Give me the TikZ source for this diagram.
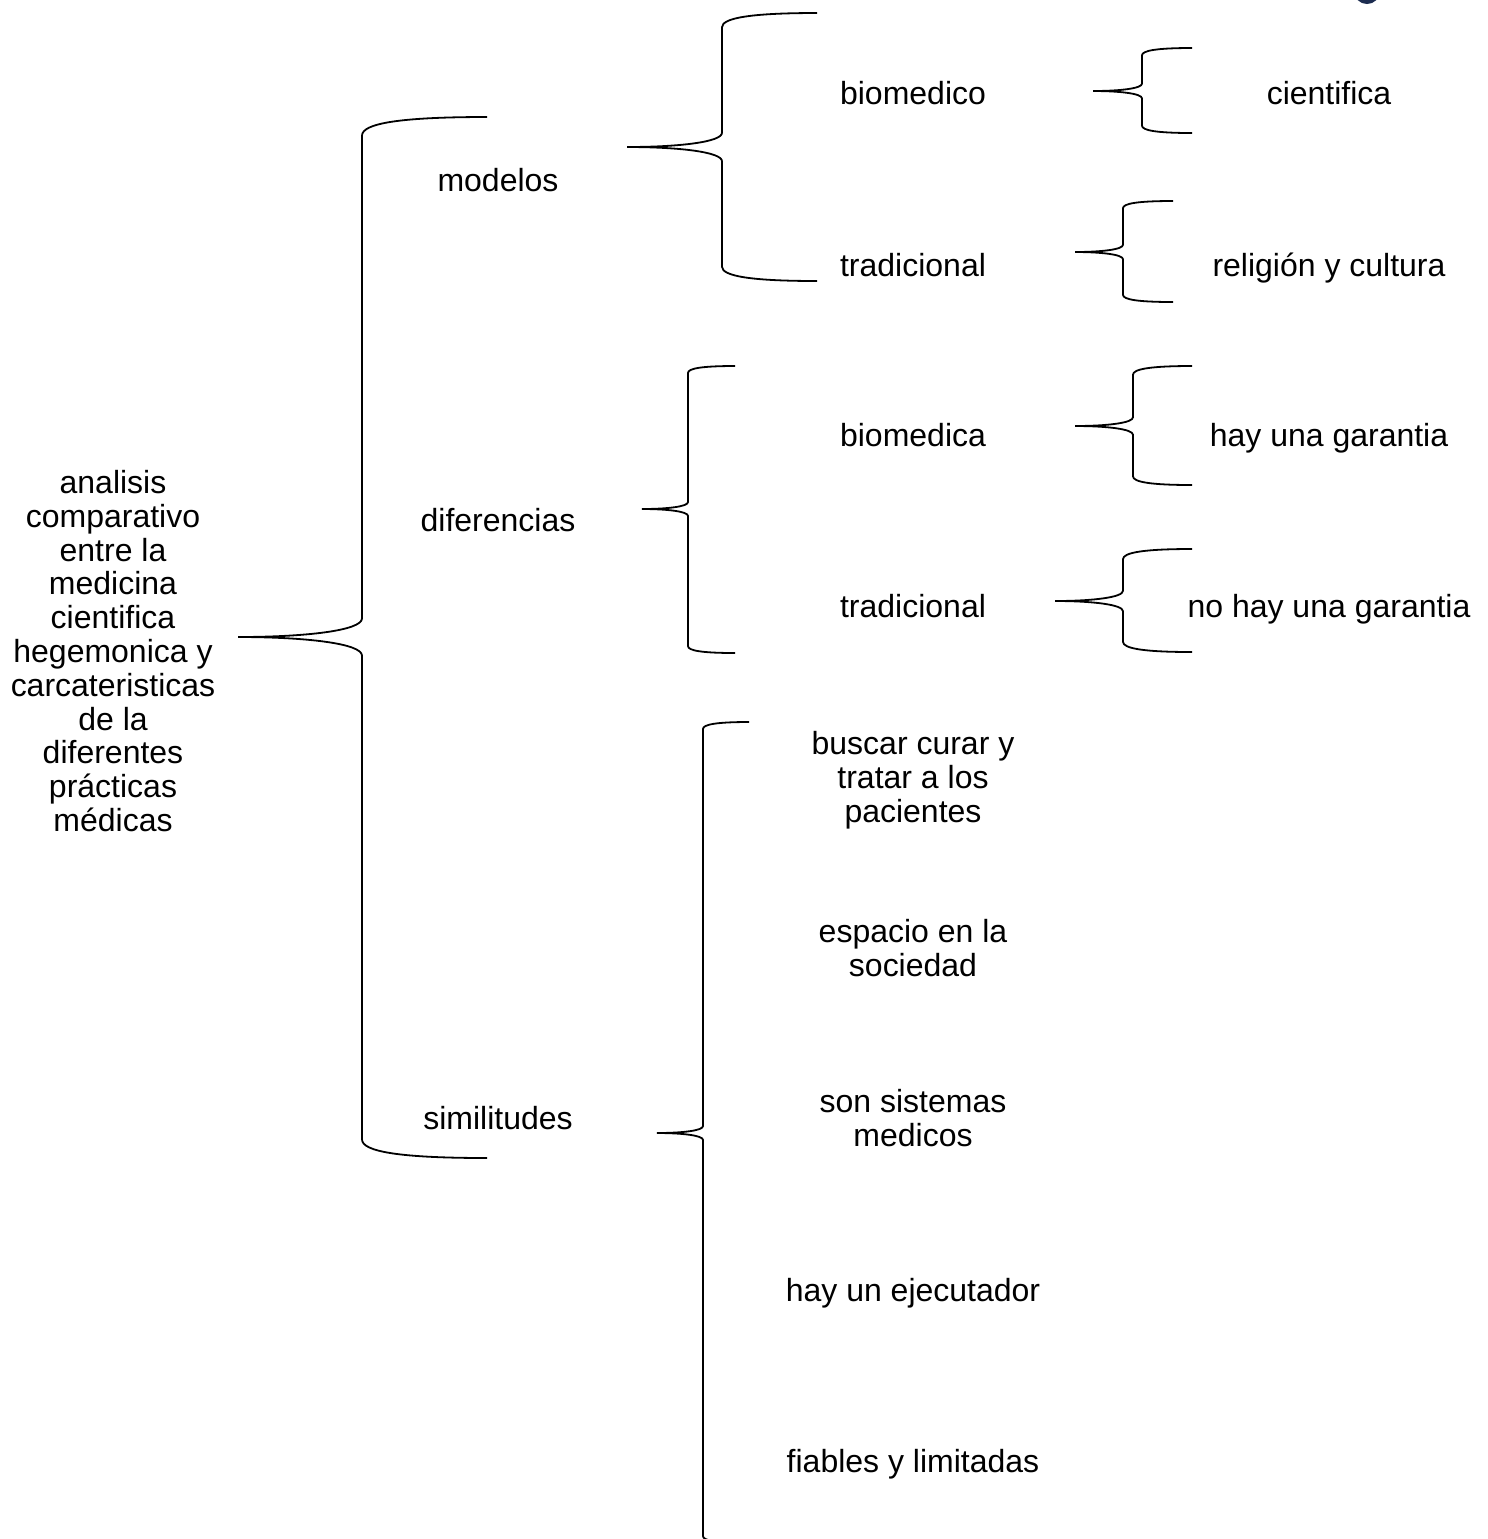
\documentclass[tikz,border=0pt]{standalone}
\usepackage{fontspec}
\setmainfont{Liberation Sans}

% curly brace: tip x, tip y, spine x, top y, bottom y, end x
\newcommand{\curlybr}[6]{%
  \pgfmathsetmacro{\brw}{#3-#1}%
  \pgfmathsetmacro{\brd}{0.15*\brw}%
  \draw[brc] (#6,#4) .. controls ({#3+0.3*\brw},#4) and (#3,{#4+0.35*\brd}) .. (#3,{#4+\brd})
    -- (#3,{#2-\brd}) .. controls (#3,{#2-0.35*\brd}) and ({#3-0.45*\brw},#2) .. (#1,#2)
    .. controls ({#3-0.45*\brw},#2) and (#3,{#2+0.35*\brd}) .. (#3,{#2+\brd})
    -- (#3,{#5-\brd}) .. controls (#3,{#5-0.35*\brd}) and ({#3+0.3*\brw},#5) .. (#6,#5);
}

\begin{document}
\begin{tikzpicture}[x=0.5pt, y=-0.5pt]
  \tikzset{
    lbl/.style={font=\fontsize{16}{16.9}\selectfont, inner sep=0pt, text height=11.5pt, text depth=3.4pt},
    blk/.style={font=\fontsize{16}{16.9}\selectfont, inner sep=0pt, align=center},
    brc/.style={draw=black, line width=0.9pt}
  }
  \useasboundingbox (0,0) rectangle (1488,1539);
  \clip (0,0) rectangle (1488,1539);

  % Corner mark
  \fill[fill={rgb,255:red,28;green,44;blue,80}] (1367,-9) circle (13);

  % Main topic
  \node[blk] (main) at (113,651) {analisis\\comparativo\\entre la\\medicina\\cientifica\\hegemonica y\\carcateristicas\\de la\\diferentes\\prácticas\\médicas};

  % Second level
  \node[lbl] (modelos) at (498,183) {modelos};
  \node[lbl] (diferencias) at (498,523) {diferencias};
  \node[lbl] (similitudes) at (498,1121) {similitudes};

  % Third level
  \node[lbl] (biomedico) at (913,96) {biomedico};
  \node[lbl] (tradmod) at (913,268) {tradicional};
  \node[lbl] (biomedica) at (913,438) {biomedica};
  \node[lbl] (tradif) at (913,609) {tradicional};
  \node[blk] (buscar) at (913,780) {buscar curar y\\tratar a los\\pacientes};
  \node[blk] (espacio) at (913,948) {espacio en la\\sociedad};
  \node[blk] (sistemas) at (913,1118) {son sistemas\\medicos};
  \node[lbl] (ejecutador) at (913,1293) {hay un ejecutador};
  \node[lbl] (fiables) at (913,1464) {fiables y limitadas};

  % Fourth level
  \node[lbl] (cientifica) at (1329,96) {cientifica};
  \node[lbl] (religion) at (1329,268) {religión y cultura};
  \node[lbl] (garantia) at (1329,438) {hay una garantia};
  \node[lbl] (nogarantia) at (1329,609) {no hay una garantia};

  % Braces
  \curlybr{238}{637}{362}{117}{1158}{487}
  \curlybr{627}{147}{722}{13}{281}{817}
  \curlybr{642}{509}{688}{366}{653}{735}
  \curlybr{657}{1133}{703}{722}{1543}{749}
  \curlybr{1093}{91}{1142}{48}{133}{1192}
  \curlybr{1075}{252}{1123}{201}{302}{1173}
  \curlybr{1075}{426}{1133}{366}{485}{1192}
  \curlybr{1055}{601}{1123}{549}{652}{1192}

\end{tikzpicture}
\end{document}
